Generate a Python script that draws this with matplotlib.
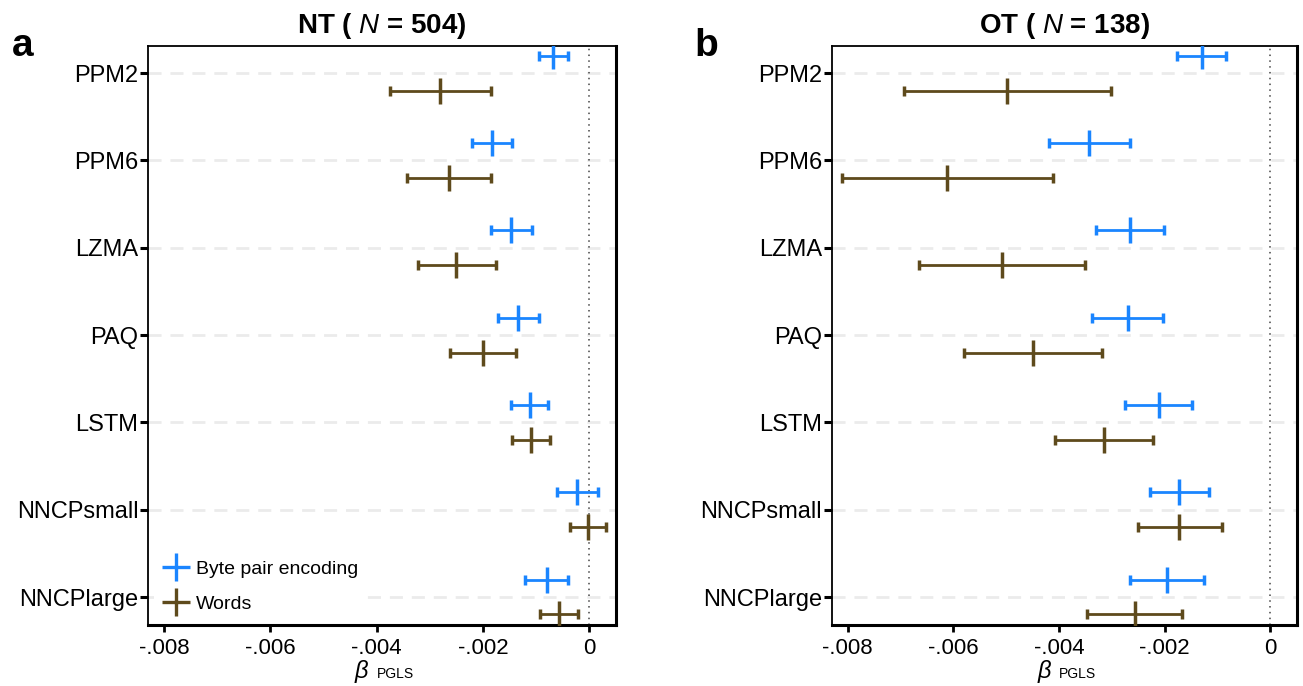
"""Forest-style coefficient plot: beta_PGLS per compressor, NT vs OT."""

import matplotlib
matplotlib.use("Agg")
import matplotlib.pyplot as plt
from matplotlib.lines import Line2D

plt.rcParams["font.family"] = ["Liberation Sans", "DejaVu Sans"]
plt.rcParams["mathtext.fontset"] = "custom"
plt.rcParams["mathtext.rm"] = "Liberation Sans"
plt.rcParams["mathtext.it"] = "Liberation Sans:italic"
plt.rcParams["mathtext.bf"] = "Liberation Sans:bold"

categories = ["PPM2", "PPM6", "LZMA", "PAQ", "LSTM", "NNCPsmall", "NNCPlarge"]

# NT (N = 504)
nt_bpe = [-0.00068, -0.00182, -0.00147, -0.00133, -0.00112, -0.00023, -0.00080]
nt_bpe_lo = [-0.00094, -0.00220, -0.00185, -0.00172, -0.00147, -0.00061, -0.00120]
nt_bpe_hi = [-0.00039, -0.00145, -0.00108, -0.00094, -0.00077, 0.00017, -0.00039]
nt_words = [-0.00280, -0.00264, -0.00250, -0.00200, -0.00109, -0.00002, -0.00057]
nt_words_lo = [-0.00375, -0.00343, -0.00323, -0.00262, -0.00146, -0.00036, -0.00092]
nt_words_hi = [-0.00184, -0.00185, -0.00176, -0.00138, -0.00073, 0.00031, -0.00021]

# OT (N = 138)
ot_bpe = [-0.00130, -0.00343, -0.00265, -0.00270, -0.00211, -0.00173, -0.00195]
ot_bpe_lo = [-0.00176, -0.00419, -0.00330, -0.00337, -0.00275, -0.00228, -0.00265]
ot_bpe_hi = [-0.00083, -0.00266, -0.00201, -0.00203, -0.00149, -0.00116, -0.00125]
ot_words = [-0.00498, -0.00611, -0.00507, -0.00449, -0.00315, -0.00173, -0.00257]
ot_words_lo = [-0.00693, -0.00810, -0.00664, -0.00579, -0.00408, -0.00251, -0.00346]
ot_words_hi = [-0.00302, -0.00411, -0.00350, -0.00319, -0.00222, -0.00091, -0.00167]

xticks = [-0.008, -0.006, -0.004, -0.002, 0]
xticklabels = ["-.008", "-.006", "-.004", "-.002", "0"]

BLUE = "#1a85ff"
BROWN = "#5e4a1c"
OFFSET = 0.2


def draw_series(ax, est, lo, hi, shift, color):
    ys = [i + shift for i in range(len(est))]
    xerr = [[e - l for e, l in zip(est, lo)], [h - e for e, h in zip(est, hi)]]
    ax.errorbar(est, ys, xerr=xerr, fmt="|", color=color, ecolor=color,
                markersize=19, mew=2.5, elinewidth=2.0, capsize=3.4,
                capthick=2.4, zorder=3)


def style_panel(ax, title):
    for i in range(len(categories)):
        ax.axhline(i, color="#ebebeb", lw=2, ls=(0, (4.7, 3.2)), zorder=0)
    ax.axvline(0, color="#444444", lw=1.1, ls=(0, (1, 2.8)), zorder=1)
    ax.set_xlim(-0.0083, 0.0005)
    ax.set_ylim(len(categories) - 1 + 0.315, -0.315)
    ax.set_yticks(range(len(categories)))
    ax.set_yticklabels(categories, fontsize=17)
    ax.set_xticks(xticks)
    ax.set_xticklabels(xticklabels, fontsize=16)
    ax.tick_params(axis="y", length=6, width=2.2, color="black", pad=1)
    ax.tick_params(axis="x", length=5, width=2, color="black", pad=5)
    for side in ["left", "top"]:
        ax.spines[side].set_linewidth(1.3)
    for side in ["right", "bottom"]:
        ax.spines[side].set_linewidth(2.2)
    # x label: italic beta followed by a small "PGLS"
    ax.text(0.474, -0.093, r"$\it{\beta}$", transform=ax.transAxes,
            ha="right", va="baseline", fontsize=17)
    ax.text(0.489, -0.093, "PGLS", transform=ax.transAxes,
            ha="left", va="baseline", fontsize=10)
    ax.set_title(title, fontsize=20, fontweight="bold", pad=9)


fig = plt.figure(figsize=(13.03, 6.86), dpi=100)
ax1 = fig.add_axes([0.1138, 0.0896, 0.3587, 0.8438])
ax2 = fig.add_axes([0.6383, 0.0896, 0.3569, 0.8438])

draw_series(ax1, nt_bpe, nt_bpe_lo, nt_bpe_hi, -OFFSET, BLUE)
draw_series(ax1, nt_words, nt_words_lo, nt_words_hi, OFFSET, BROWN)
style_panel(ax1, r"NT ( $\it{N}$ = 504)")

draw_series(ax2, ot_bpe, ot_bpe_lo, ot_bpe_hi, -OFFSET, BLUE)
draw_series(ax2, ot_words, ot_words_lo, ot_words_hi, OFFSET, BROWN)
style_panel(ax2, r"OT ( $\it{N}$ = 138)")

handles = [
    Line2D([], [], color=BLUE, marker="+", markersize=20, mew=2.4, ls="none"),
    Line2D([], [], color=BROWN, marker="+", markersize=20, mew=2.4, ls="none"),
]
leg = ax1.legend(handles, ["Byte pair encoding", "Words"], loc="lower left",
                 bbox_to_anchor=(0.0, -0.005), fontsize=14, frameon=True,
                 facecolor="white", edgecolor="none", framealpha=1,
                 handlelength=1.4, handletextpad=0.3, labelspacing=0.9,
                 borderpad=0.45, borderaxespad=0.3)
leg.set_zorder(2)

fig.text(0.009, 0.918, "a", fontsize=28, fontweight="bold")
fig.text(0.533, 0.918, "b", fontsize=28, fontweight="bold")

fig.savefig("out.png", dpi=100)
